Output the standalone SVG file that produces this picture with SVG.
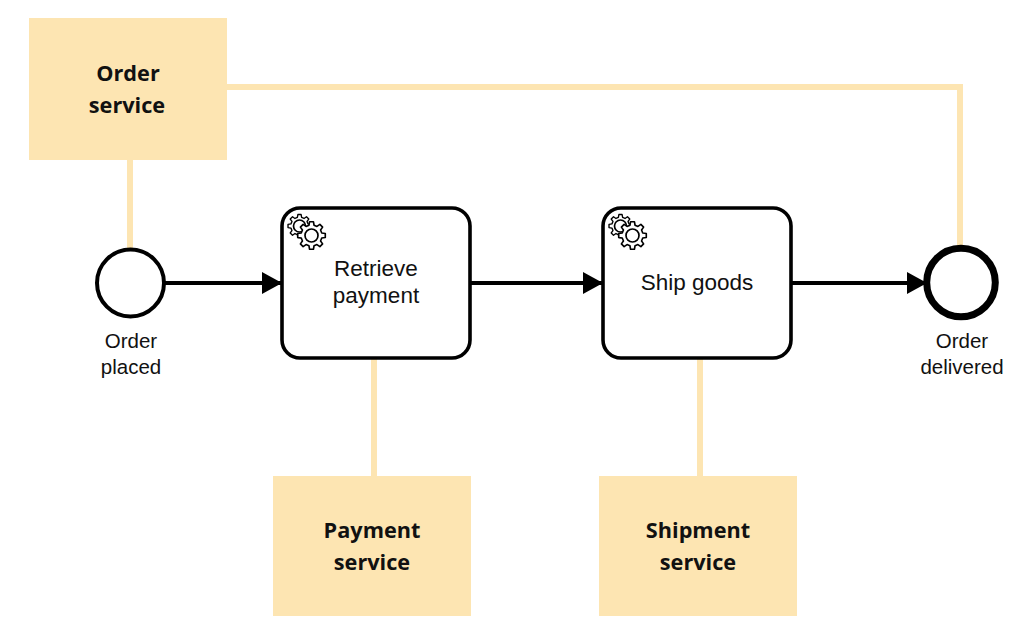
<svg xmlns="http://www.w3.org/2000/svg" width="1028" height="638" viewBox="0 0 1028 638">
<style>
.svc{fill:#fde5b2}
.st{font:700 21.700px "Open Sans",sans-serif;fill:#111;text-anchor:middle}
.lb{font:20.500px "Liberation Sans",Arial,sans-serif;fill:#111;text-anchor:middle}
.tl{font:22.500px "Liberation Sans",Arial,sans-serif;fill:#111;text-anchor:middle}
.as{fill:none;stroke:#fde5b2;stroke-width:6}
.fl{fill:none;stroke:#000;stroke-width:4}
.task{fill:#fff;stroke:#000;stroke-width:3.600}
.gear{fill:#fff;stroke:#000;stroke-width:1.700;stroke-linejoin:round}
</style>
<defs>
<marker id="arr" markerUnits="userSpaceOnUse" markerWidth="22" markerHeight="24" refX="20" refY="11" orient="auto"><path d="M0 0L20 11L0 22Z" fill="#000"/></marker>
<path id="cog" d="M14.36 2.02 10.67 2.66 9.43 5.67 11.58 8.73 8.73 11.58 5.67 9.43 2.66 10.67 2.02 14.36-2.02 14.36-2.66 10.67-5.67 9.43-8.73 11.58-11.58 8.73-9.43 5.67-10.67 2.66-14.36 2.02-14.36-2.02-10.67-2.66-9.43-5.67-11.58-8.73-8.73-11.58-5.67-9.43-2.66-10.67-2.02-14.36 2.02-14.36 2.66-10.67 5.67-9.43 8.73-11.58 11.58-8.73 9.43-5.67 10.67-2.66 14.36-2.02Z"/>
<g id="gears">
<use href="#cog" class="gear" transform="translate(299.500 226) scale(.8)"/>
<circle class="gear" cx="299.500" cy="226" r="6"/>
<use href="#cog" class="gear" transform="translate(311.500 235.500) scale(.96)"/>
<circle class="gear" cx="311.500" cy="235.500" r="6.500"/>
</g>
</defs>
<g id="connectors">
<path class="as" d="M130 160V250"/>
<path class="as" d="M227 87H960V246"/>
<path class="as" d="M374 358V476"/>
<path class="as" d="M700 358V476"/>
<path class="fl" d="M165 283H282" marker-end="url(#arr)"/>
<path class="fl" d="M471 283H603" marker-end="url(#arr)"/>
<path class="fl" d="M792 283H927" marker-end="url(#arr)"/>
</g>
<g id="order-service"><rect class="svc" x="29" y="18" width="198" height="142"/><text class="st" x="128" y="81">Order</text><text class="st" x="127" y="113">service</text></g>
<g id="payment-service"><rect class="svc" x="273" y="476" width="198" height="140"/><text class="st" x="372" y="538">Payment</text><text class="st" x="372" y="570">service</text></g>
<g id="shipment-service"><rect class="svc" x="599" y="476" width="198" height="140"/><text class="st" x="698" y="538">Shipment</text><text class="st" x="698" y="570">service</text></g>
<g id="order-placed"><circle cx="130.500" cy="283" r="33.500" fill="#fff" stroke="#000" stroke-width="4"/><text class="lb" x="131" y="348">Order</text><text class="lb" x="131" y="374">placed</text></g>
<g id="retrieve-payment"><rect class="task" x="282" y="208" width="188" height="150" rx="18"/><use href="#gears"/><text class="tl" x="376" y="276">Retrieve</text><text class="tl" x="376" y="303">payment</text></g>
<g id="ship-goods"><rect class="task" x="603" y="208" width="188" height="150" rx="18"/><use href="#gears" x="321"/><text class="tl" x="697" y="290">Ship goods</text></g>
<g id="order-delivered"><circle cx="961" cy="282.500" r="34.300" fill="#fff" stroke="#000" stroke-width="7"/><text class="lb" x="962" y="348">Order</text><text class="lb" x="962" y="374">delivered</text></g>
</svg>
